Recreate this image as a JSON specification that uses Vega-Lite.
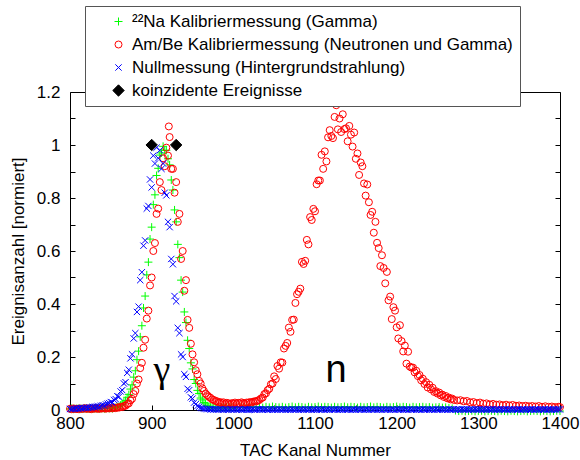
{
  "$schema": "https://vega.github.io/schema/vega-lite/v6.json",
  "autosize": {"type": "none"},
  "padding": {"left": 70, "top": 92, "right": 20, "bottom": 50},
  "width": 490,
  "height": 318,
  "background": "white",
  "config": {
    "font": "Liberation Sans",
    "view": {"stroke": "black", "strokeWidth": 1},
    "axis": {"labelFont": "Liberation Sans", "titleFont": "Liberation Sans", "labelFontSize": 17, "titleFontSize": 17, "titleFontWeight": "normal", "labelColor": "black", "titleColor": "black", "tickColor": "black", "grid": false, "domain": false, "labelFlush": false},
    "legend": {"orient": "none", "legendX": 15, "legendY": -86, "fillColor": "white", "strokeColor": "#555555", "padding": 7, "labelFont": "Liberation Sans", "labelFontSize": 17, "labelColor": "black", "labelLimit": 0, "rowPadding": 5, "symbolOffset": 18, "labelOffset": 5, "symbolStrokeWidth": 1, "title": null}
  },
  "resolve": {"axis": {"y": "independent"}},
  "layer": [
    {
      "data": {"values": [
      {"x":800,"y":0.004,"s":"a"},{"x":802,"y":0.006,"s":"a"},{"x":804,"y":0.003,"s":"a"},{"x":806,"y":0.005,"s":"a"},{"x":808,"y":0.004,"s":"a"},{"x":810,"y":0.006,"s":"a"},{"x":812,"y":0.003,"s":"a"},{"x":814,"y":0.005,"s":"a"},{"x":816,"y":0.004,"s":"a"},{"x":818,"y":0.006,"s":"a"},{"x":820,"y":0.005,"s":"a"},{"x":822,"y":0.004,"s":"a"},{"x":824,"y":0.006,"s":"a"},{"x":826,"y":0.005,"s":"a"},{"x":828,"y":0.004,"s":"a"},{"x":830,"y":0.006,"s":"a"},{"x":832,"y":0.005,"s":"a"},{"x":834,"y":0.007,"s":"a"},{"x":836,"y":0.005,"s":"a"},{"x":838,"y":0.006,"s":"a"},{"x":840,"y":0.007,"s":"a"},{"x":842,"y":0.005,"s":"a"},{"x":844,"y":0.006,"s":"a"},{"x":846,"y":0.008,"s":"a"},{"x":848,"y":0.006,"s":"a"},{"x":850,"y":0.007,"s":"a"},{"x":852,"y":0.006,"s":"a"},{"x":854,"y":0.008,"s":"a"},{"x":856,"y":0.009,"s":"a"},{"x":858,"y":0.012,"s":"a"},{"x":860,"y":0.013,"s":"a"},{"x":862,"y":0.018,"s":"a"},{"x":864,"y":0.022,"s":"a"},{"x":866,"y":0.03,"s":"a"},{"x":868,"y":0.036,"s":"a"},{"x":870,"y":0.048,"s":"a"},{"x":872,"y":0.058,"s":"a"},{"x":874,"y":0.079,"s":"a"},{"x":876,"y":0.095,"s":"a"},{"x":878,"y":0.124,"s":"a"},{"x":880,"y":0.148,"s":"a"},{"x":882,"y":0.19,"s":"a"},{"x":884,"y":0.222,"s":"a"},{"x":886,"y":0.276,"s":"a"},{"x":888,"y":0.318,"s":"a"},{"x":890,"y":0.385,"s":"a"},{"x":892,"y":0.43,"s":"a"},{"x":894,"y":0.51,"s":"a"},{"x":896,"y":0.558,"s":"a"},{"x":898,"y":0.645,"s":"a"},{"x":900,"y":0.69,"s":"a"},{"x":902,"y":0.775,"s":"a"},{"x":904,"y":0.812,"s":"a"},{"x":906,"y":0.885,"s":"a"},{"x":908,"y":0.912,"s":"a"},{"x":910,"y":0.962,"s":"a"},{"x":912,"y":0.97,"s":"a"},{"x":914,"y":0.995,"s":"a"},{"x":916,"y":0.98,"s":"a"},{"x":918,"y":0.98,"s":"a"},{"x":920,"y":0.948,"s":"a"},{"x":922,"y":0.925,"s":"a"},{"x":924,"y":0.868,"s":"a"},{"x":926,"y":0.83,"s":"a"},{"x":928,"y":0.755,"s":"a"},{"x":930,"y":0.71,"s":"a"},{"x":932,"y":0.625,"s":"a"},{"x":934,"y":0.575,"s":"a"},{"x":936,"y":0.49,"s":"a"},{"x":938,"y":0.445,"s":"a"},{"x":940,"y":0.37,"s":"a"},{"x":942,"y":0.33,"s":"a"},{"x":944,"y":0.263,"s":"a"},{"x":946,"y":0.232,"s":"a"},{"x":948,"y":0.178,"s":"a"},{"x":950,"y":0.155,"s":"a"},{"x":952,"y":0.115,"s":"a"},{"x":954,"y":0.1,"s":"a"},{"x":956,"y":0.074,"s":"a"},{"x":958,"y":0.062,"s":"a"},{"x":960,"y":0.045,"s":"a"},{"x":962,"y":0.038,"s":"a"},{"x":964,"y":0.028,"s":"a"},{"x":966,"y":0.023,"s":"a"},{"x":968,"y":0.016,"s":"a"},{"x":970,"y":0.014,"s":"a"},{"x":972,"y":0.011,"s":"a"},{"x":974,"y":0.01,"s":"a"},{"x":976,"y":0.009,"s":"a"},{"x":978,"y":0.008,"s":"a"},{"x":980,"y":0.009,"s":"a"},{"x":982,"y":0.01,"s":"a"},{"x":984,"y":0.008,"s":"a"},{"x":986,"y":0.011,"s":"a"},{"x":988,"y":0.01,"s":"a"},{"x":990,"y":0.009,"s":"a"},{"x":992,"y":0.011,"s":"a"},{"x":994,"y":0.01,"s":"a"},{"x":996,"y":0.012,"s":"a"},{"x":998,"y":0.01,"s":"a"},
      {"x":1000,"y":0.011,"s":"a"},{"x":1004,"y":0.01,"s":"a"},{"x":1008,"y":0.012,"s":"a"},{"x":1012,"y":0.009,"s":"a"},{"x":1016,"y":0.011,"s":"a"},{"x":1020,"y":0.013,"s":"a"},{"x":1024,"y":0.01,"s":"a"},{"x":1028,"y":0.012,"s":"a"},{"x":1032,"y":0.011,"s":"a"},{"x":1036,"y":0.009,"s":"a"},{"x":1040,"y":0.012,"s":"a"},{"x":1044,"y":0.01,"s":"a"},{"x":1048,"y":0.013,"s":"a"},{"x":1052,"y":0.011,"s":"a"},{"x":1056,"y":0.01,"s":"a"},{"x":1060,"y":0.012,"s":"a"},{"x":1064,"y":0.009,"s":"a"},{"x":1068,"y":0.011,"s":"a"},{"x":1072,"y":0.013,"s":"a"},{"x":1076,"y":0.01,"s":"a"},{"x":1080,"y":0.012,"s":"a"},{"x":1084,"y":0.011,"s":"a"},{"x":1088,"y":0.009,"s":"a"},{"x":1092,"y":0.012,"s":"a"},{"x":1096,"y":0.01,"s":"a"},{"x":1100,"y":0.011,"s":"a"},{"x":1104,"y":0.013,"s":"a"},{"x":1108,"y":0.01,"s":"a"},{"x":1112,"y":0.012,"s":"a"},{"x":1116,"y":0.011,"s":"a"},{"x":1120,"y":0.009,"s":"a"},{"x":1124,"y":0.012,"s":"a"},{"x":1128,"y":0.01,"s":"a"},{"x":1132,"y":0.011,"s":"a"},{"x":1136,"y":0.013,"s":"a"},{"x":1140,"y":0.01,"s":"a"},{"x":1144,"y":0.012,"s":"a"},{"x":1148,"y":0.011,"s":"a"},{"x":1152,"y":0.009,"s":"a"},{"x":1156,"y":0.012,"s":"a"},{"x":1160,"y":0.01,"s":"a"},{"x":1164,"y":0.011,"s":"a"},{"x":1168,"y":0.013,"s":"a"},{"x":1172,"y":0.01,"s":"a"},{"x":1176,"y":0.012,"s":"a"},{"x":1180,"y":0.011,"s":"a"},{"x":1184,"y":0.009,"s":"a"},{"x":1188,"y":0.012,"s":"a"},{"x":1192,"y":0.01,"s":"a"},{"x":1196,"y":0.011,"s":"a"},{"x":1200,"y":0.013,"s":"a"},{"x":1204,"y":0.01,"s":"a"},{"x":1208,"y":0.012,"s":"a"},{"x":1212,"y":0.011,"s":"a"},{"x":1216,"y":0.009,"s":"a"},{"x":1220,"y":0.012,"s":"a"},{"x":1224,"y":0.01,"s":"a"},{"x":1228,"y":0.011,"s":"a"},{"x":1232,"y":0.012,"s":"a"},{"x":1236,"y":0.01,"s":"a"},{"x":1240,"y":0.011,"s":"a"},{"x":1244,"y":0.009,"s":"a"},{"x":1248,"y":0.01,"s":"a"},{"x":1252,"y":0.011,"s":"a"},{"x":1256,"y":0.009,"s":"a"},{"x":1260,"y":0.01,"s":"a"},{"x":1264,"y":0.008,"s":"a"},{"x":1268,"y":0.006,"s":"a"},
      {"x":1272,"y":-0.002,"s":"a"},{"x":1276,"y":-0.004,"s":"a"},{"x":1280,"y":-0.003,"s":"a"},{"x":1284,"y":-0.005,"s":"a"},{"x":1288,"y":-0.004,"s":"a"},{"x":1292,"y":-0.003,"s":"a"},{"x":1296,"y":-0.005,"s":"a"},{"x":1300,"y":-0.004,"s":"a"},{"x":1304,"y":-0.003,"s":"a"},{"x":1308,"y":-0.005,"s":"a"},{"x":1312,"y":-0.004,"s":"a"},{"x":1316,"y":-0.003,"s":"a"},{"x":1320,"y":-0.004,"s":"a"},{"x":1324,"y":-0.005,"s":"a"},{"x":1328,"y":-0.003,"s":"a"},{"x":1332,"y":-0.004,"s":"a"},{"x":1336,"y":-0.005,"s":"a"},{"x":1340,"y":-0.003,"s":"a"},{"x":1344,"y":-0.004,"s":"a"},{"x":1348,"y":-0.005,"s":"a"},{"x":1352,"y":-0.004,"s":"a"},{"x":1356,"y":-0.003,"s":"a"},{"x":1360,"y":-0.005,"s":"a"},{"x":1364,"y":-0.004,"s":"a"},{"x":1368,"y":-0.003,"s":"a"},{"x":1372,"y":-0.004,"s":"a"},{"x":1376,"y":-0.005,"s":"a"},{"x":1380,"y":-0.003,"s":"a"},{"x":1384,"y":-0.004,"s":"a"},{"x":1388,"y":-0.005,"s":"a"},{"x":1392,"y":-0.004,"s":"a"},{"x":1396,"y":-0.003,"s":"a"},{"x":1400,"y":-0.004,"s":"a"},
      {"x":800,"y":0.005,"s":"b"},{"x":802,"y":0.003,"s":"b"},{"x":804,"y":0.006,"s":"b"},{"x":806,"y":0.004,"s":"b"},{"x":808,"y":0.005,"s":"b"},{"x":810,"y":0.003,"s":"b"},{"x":812,"y":0.006,"s":"b"},{"x":814,"y":0.004,"s":"b"},{"x":816,"y":0.005,"s":"b"},{"x":818,"y":0.007,"s":"b"},{"x":820,"y":0.004,"s":"b"},{"x":822,"y":0.006,"s":"b"},{"x":824,"y":0.005,"s":"b"},{"x":826,"y":0.003,"s":"b"},{"x":828,"y":0.006,"s":"b"},{"x":830,"y":0.005,"s":"b"},{"x":832,"y":0.007,"s":"b"},{"x":834,"y":0.004,"s":"b"},{"x":836,"y":0.006,"s":"b"},{"x":838,"y":0.005,"s":"b"},{"x":840,"y":0.007,"s":"b"},{"x":842,"y":0.006,"s":"b"},{"x":844,"y":0.005,"s":"b"},{"x":846,"y":0.008,"s":"b"},{"x":848,"y":0.006,"s":"b"},{"x":850,"y":0.007,"s":"b"},{"x":852,"y":0.006,"s":"b"},{"x":854,"y":0.009,"s":"b"},{"x":856,"y":0.007,"s":"b"},{"x":858,"y":0.01,"s":"b"},{"x":860,"y":0.009,"s":"b"},{"x":862,"y":0.012,"s":"b"},{"x":864,"y":0.011,"s":"b"},{"x":866,"y":0.015,"s":"b"},{"x":868,"y":0.016,"s":"b"},{"x":870,"y":0.022,"s":"b"},{"x":872,"y":0.025,"s":"b"},{"x":874,"y":0.036,"s":"b"},{"x":876,"y":0.042,"s":"b"},{"x":878,"y":0.06,"s":"b"},{"x":880,"y":0.072,"s":"b"},{"x":882,"y":0.1,"s":"b"},{"x":884,"y":0.115,"s":"b"},{"x":886,"y":0.158,"s":"b"},{"x":888,"y":0.178,"s":"b"},{"x":890,"y":0.235,"s":"b"},{"x":892,"y":0.265,"s":"b"},{"x":894,"y":0.345,"s":"b"},{"x":896,"y":0.375,"s":"b"},{"x":898,"y":0.47,"s":"b"},{"x":900,"y":0.5,"s":"b"},{"x":902,"y":0.6,"s":"b"},{"x":904,"y":0.63,"s":"b"},{"x":906,"y":0.74,"s":"b"},{"x":908,"y":0.76,"s":"b"},{"x":910,"y":0.86,"s":"b"},{"x":912,"y":0.83,"s":"b"},{"x":914,"y":0.95,"s":"b"},{"x":916,"y":0.92,"s":"b"},{"x":918,"y":0.99,"s":"b"},{"x":920,"y":0.96,"s":"b"},{"x":921,"y":1.07,"s":"b"},{"x":922,"y":1.03,"s":"b"},{"x":924,"y":0.91,"s":"b"},{"x":926,"y":0.91,"s":"b"},{"x":928,"y":0.82,"s":"b"},{"x":930,"y":0.86,"s":"b"},{"x":932,"y":0.71,"s":"b"},{"x":934,"y":0.74,"s":"b"},{"x":936,"y":0.57,"s":"b"},{"x":938,"y":0.6,"s":"b"},{"x":940,"y":0.45,"s":"b"},{"x":942,"y":0.49,"s":"b"},{"x":944,"y":0.34,"s":"b"},{"x":946,"y":0.31,"s":"b"},{"x":948,"y":0.25,"s":"b"},{"x":950,"y":0.21,"s":"b"},{"x":952,"y":0.18,"s":"b"},{"x":954,"y":0.15,"s":"b"},{"x":956,"y":0.135,"s":"b"},{"x":958,"y":0.11,"s":"b"},{"x":960,"y":0.1,"s":"b"},{"x":962,"y":0.082,"s":"b"},{"x":964,"y":0.072,"s":"b"},{"x":966,"y":0.062,"s":"b"},{"x":968,"y":0.056,"s":"b"},{"x":970,"y":0.05,"s":"b"},{"x":972,"y":0.046,"s":"b"},{"x":974,"y":0.04,"s":"b"},{"x":976,"y":0.038,"s":"b"},{"x":978,"y":0.034,"s":"b"},{"x":980,"y":0.033,"s":"b"},{"x":982,"y":0.028,"s":"b"},{"x":984,"y":0.03,"s":"b"},{"x":986,"y":0.026,"s":"b"},{"x":988,"y":0.029,"s":"b"},{"x":990,"y":0.024,"s":"b"},{"x":992,"y":0.027,"s":"b"},{"x":994,"y":0.025,"s":"b"},{"x":996,"y":0.022,"s":"b"},{"x":998,"y":0.026,"s":"b"},{"x":1000,"y":0.024,"s":"b"},{"x":1002,"y":0.028,"s":"b"},{"x":1004,"y":0.023,"s":"b"},{"x":1006,"y":0.027,"s":"b"},{"x":1008,"y":0.025,"s":"b"},{"x":1010,"y":0.029,"s":"b"},{"x":1012,"y":0.026,"s":"b"},{"x":1014,"y":0.024,"s":"b"},{"x":1016,"y":0.028,"s":"b"},{"x":1018,"y":0.027,"s":"b"},{"x":1020,"y":0.03,"s":"b"},{"x":1022,"y":0.028,"s":"b"},{"x":1024,"y":0.031,"s":"b"},{"x":1026,"y":0.033,"s":"b"},{"x":1028,"y":0.032,"s":"b"},{"x":1030,"y":0.036,"s":"b"},{"x":1032,"y":0.038,"s":"b"},{"x":1034,"y":0.044,"s":"b"},{"x":1036,"y":0.047,"s":"b"},{"x":1038,"y":0.06,"s":"b"},{"x":1040,"y":0.063,"s":"b"},{"x":1042,"y":0.075,"s":"b"},{"x":1044,"y":0.08,"s":"b"},{"x":1046,"y":0.097,"s":"b"},{"x":1048,"y":0.1,"s":"b"},{"x":1050,"y":0.127,"s":"b"},{"x":1052,"y":0.117,"s":"b"},{"x":1054,"y":0.166,"s":"b"},{"x":1056,"y":0.156,"s":"b"},{"x":1058,"y":0.18,"s":"b"},{"x":1060,"y":0.179,"s":"b"},{"x":1062,"y":0.232,"s":"b"},{"x":1064,"y":0.242,"s":"b"},{"x":1066,"y":0.253,"s":"b"},{"x":1068,"y":0.311,"s":"b"},{"x":1070,"y":0.295,"s":"b"},{"x":1072,"y":0.34,"s":"b"},{"x":1074,"y":0.341,"s":"b"},{"x":1076,"y":0.404,"s":"b"},{"x":1078,"y":0.437,"s":"b"},{"x":1080,"y":0.446,"s":"b"},{"x":1082,"y":0.458,"s":"b"},{"x":1084,"y":0.559,"s":"b"},{"x":1086,"y":0.551,"s":"b"},{"x":1088,"y":0.563,"s":"b"},{"x":1090,"y":0.642,"s":"b"},{"x":1092,"y":0.625,"s":"b"},{"x":1094,"y":0.728,"s":"b"},{"x":1096,"y":0.717,"s":"b"},{"x":1098,"y":0.759,"s":"b"},{"x":1100,"y":0.75,"s":"b"},{"x":1102,"y":0.852,"s":"b"},{"x":1104,"y":0.866,"s":"b"},{"x":1106,"y":0.866,"s":"b"},{"x":1108,"y":0.963,"s":"b"},{"x":1110,"y":0.91,"s":"b"},{"x":1112,"y":0.976,"s":"b"},{"x":1114,"y":0.938,"s":"b"},{"x":1116,"y":1.029,"s":"b"},{"x":1118,"y":1.056,"s":"b"},{"x":1120,"y":1.034,"s":"b"},{"x":1122,"y":1.026,"s":"b"},{"x":1124,"y":1.106,"s":"b"},{"x":1126,"y":1.15,"s":"b"},{"x":1128,"y":1.059,"s":"b"},{"x":1130,"y":1.1,"s":"b"},{"x":1132,"y":1.049,"s":"b"},{"x":1134,"y":1.116,"s":"b"},{"x":1136,"y":1.06,"s":"b"},{"x":1138,"y":1.063,"s":"b"},{"x":1140,"y":1.014,"s":"b"},{"x":1142,"y":1.072,"s":"b"},{"x":1144,"y":1.039,"s":"b"},{"x":1146,"y":0.994,"s":"b"},{"x":1148,"y":1.047,"s":"b"},{"x":1150,"y":0.948,"s":"b"},{"x":1152,"y":0.968,"s":"b"},{"x":1154,"y":0.887,"s":"b"},{"x":1156,"y":0.934,"s":"b"},{"x":1158,"y":0.92,"s":"b"},{"x":1160,"y":0.855,"s":"b"},{"x":1162,"y":0.809,"s":"b"},{"x":1164,"y":0.851,"s":"b"},{"x":1166,"y":0.784,"s":"b"},{"x":1168,"y":0.736,"s":"b"},{"x":1170,"y":0.748,"s":"b"},{"x":1172,"y":0.669,"s":"b"},{"x":1174,"y":0.71,"s":"b"},{"x":1176,"y":0.631,"s":"b"},{"x":1178,"y":0.611,"s":"b"},{"x":1180,"y":0.543,"s":"b"},{"x":1182,"y":0.584,"s":"b"},{"x":1184,"y":0.536,"s":"b"},{"x":1186,"y":0.478,"s":"b"},{"x":1188,"y":0.521,"s":"b"},{"x":1190,"y":0.414,"s":"b"},{"x":1192,"y":0.428,"s":"b"},{"x":1194,"y":0.343,"s":"b"},{"x":1196,"y":0.388,"s":"b"},{"x":1198,"y":0.375,"s":"b"},{"x":1200,"y":0.312,"s":"b"},{"x":1202,"y":0.27,"s":"b"},{"x":1204,"y":0.32,"s":"b"},{"x":1206,"y":0.26,"s":"b"},{"x":1208,"y":0.221,"s":"b"},{"x":1210,"y":0.243,"s":"b"},{"x":1212,"y":0.175,"s":"b"},{"x":1214,"y":0.22,"s":"b"},{"x":1216,"y":0.164,"s":"b"},{"x":1218,"y":0.16,"s":"b"},{"x":1220,"y":0.16,"s":"b"},{"x":1222,"y":0.142,"s":"b"},{"x":1224,"y":0.148,"s":"b"},{"x":1226,"y":0.128,"s":"b"},{"x":1228,"y":0.132,"s":"b"},{"x":1230,"y":0.112,"s":"b"},{"x":1232,"y":0.118,"s":"b"},{"x":1234,"y":0.098,"s":"b"},{"x":1236,"y":0.105,"s":"b"},{"x":1238,"y":0.085,"s":"b"},{"x":1240,"y":0.095,"s":"b"},{"x":1242,"y":0.078,"s":"b"},{"x":1244,"y":0.084,"s":"b"},{"x":1246,"y":0.068,"s":"b"},{"x":1248,"y":0.071,"s":"b"},{"x":1250,"y":0.062,"s":"b"},{"x":1252,"y":0.066,"s":"b"},{"x":1254,"y":0.055,"s":"b"},{"x":1256,"y":0.058,"s":"b"},{"x":1258,"y":0.049,"s":"b"},{"x":1260,"y":0.053,"s":"b"},{"x":1262,"y":0.044,"s":"b"},{"x":1264,"y":0.047,"s":"b"},{"x":1266,"y":0.04,"s":"b"},{"x":1268,"y":0.043,"s":"b"},{"x":1270,"y":0.038,"s":"b"},
      {"x":1274,"y":0.036,"s":"b"},{"x":1278,"y":0.037,"s":"b"},{"x":1282,"y":0.033,"s":"b"},{"x":1286,"y":0.034,"s":"b"},{"x":1290,"y":0.029,"s":"b"},{"x":1294,"y":0.03,"s":"b"},{"x":1298,"y":0.026,"s":"b"},{"x":1302,"y":0.028,"s":"b"},{"x":1306,"y":0.024,"s":"b"},{"x":1310,"y":0.025,"s":"b"},{"x":1314,"y":0.021,"s":"b"},{"x":1318,"y":0.023,"s":"b"},{"x":1322,"y":0.02,"s":"b"},{"x":1326,"y":0.021,"s":"b"},{"x":1330,"y":0.018,"s":"b"},{"x":1334,"y":0.02,"s":"b"},{"x":1338,"y":0.017,"s":"b"},{"x":1342,"y":0.019,"s":"b"},{"x":1346,"y":0.016,"s":"b"},{"x":1350,"y":0.017,"s":"b"},{"x":1354,"y":0.015,"s":"b"},{"x":1358,"y":0.016,"s":"b"},{"x":1362,"y":0.014,"s":"b"},{"x":1366,"y":0.015,"s":"b"},{"x":1370,"y":0.013,"s":"b"},{"x":1374,"y":0.015,"s":"b"},{"x":1378,"y":0.012,"s":"b"},{"x":1382,"y":0.014,"s":"b"},{"x":1386,"y":0.012,"s":"b"},{"x":1390,"y":0.013,"s":"b"},{"x":1394,"y":0.011,"s":"b"},{"x":1398,"y":0.012,"s":"b"},{"x":1400,"y":0.011,"s":"b"},
      {"x":800,"y":0.004,"s":"c"},{"x":802,"y":0.003,"s":"c"},{"x":804,"y":0.005,"s":"c"},{"x":806,"y":0.004,"s":"c"},{"x":808,"y":0.006,"s":"c"},{"x":810,"y":0.005,"s":"c"},{"x":812,"y":0.007,"s":"c"},{"x":814,"y":0.006,"s":"c"},{"x":816,"y":0.008,"s":"c"},{"x":818,"y":0.007,"s":"c"},{"x":820,"y":0.009,"s":"c"},{"x":822,"y":0.008,"s":"c"},{"x":824,"y":0.01,"s":"c"},{"x":826,"y":0.009,"s":"c"},{"x":828,"y":0.012,"s":"c"},{"x":830,"y":0.011,"s":"c"},{"x":832,"y":0.013,"s":"c"},{"x":834,"y":0.014,"s":"c"},{"x":836,"y":0.012,"s":"c"},{"x":838,"y":0.016,"s":"c"},{"x":840,"y":0.018,"s":"c"},{"x":842,"y":0.017,"s":"c"},{"x":844,"y":0.021,"s":"c"},{"x":846,"y":0.024,"s":"c"},{"x":848,"y":0.026,"s":"c"},{"x":850,"y":0.03,"s":"c"},{"x":852,"y":0.028,"s":"c"},{"x":854,"y":0.038,"s":"c"},{"x":856,"y":0.041,"s":"c"},{"x":858,"y":0.052,"s":"c"},{"x":860,"y":0.05,"s":"c"},{"x":862,"y":0.07,"s":"c"},{"x":864,"y":0.075,"s":"c"},{"x":866,"y":0.1,"s":"c"},{"x":868,"y":0.105,"s":"c"},{"x":870,"y":0.14,"s":"c"},{"x":872,"y":0.152,"s":"c"},{"x":874,"y":0.195,"s":"c"},{"x":876,"y":0.21,"s":"c"},{"x":878,"y":0.27,"s":"c"},{"x":880,"y":0.29,"s":"c"},{"x":882,"y":0.37,"s":"c"},{"x":884,"y":0.39,"s":"c"},{"x":886,"y":0.49,"s":"c"},{"x":888,"y":0.52,"s":"c"},{"x":890,"y":0.62,"s":"c"},{"x":892,"y":0.64,"s":"c"},{"x":894,"y":0.76,"s":"c"},{"x":896,"y":0.77,"s":"c"},{"x":898,"y":0.87,"s":"c"},{"x":900,"y":0.84,"s":"c"},{"x":902,"y":0.96,"s":"c"},{"x":904,"y":0.93,"s":"c"},{"x":906,"y":0.99,"s":"c"},{"x":908,"y":0.95,"s":"c"},{"x":910,"y":0.98,"s":"c"},{"x":912,"y":0.91,"s":"c"},{"x":914,"y":0.93,"s":"c"},{"x":916,"y":0.82,"s":"c"},{"x":918,"y":0.81,"s":"c"},{"x":920,"y":0.71,"s":"c"},{"x":922,"y":0.69,"s":"c"},{"x":924,"y":0.57,"s":"c"},{"x":926,"y":0.55,"s":"c"},{"x":928,"y":0.43,"s":"c"},{"x":930,"y":0.41,"s":"c"},{"x":932,"y":0.31,"s":"c"},{"x":934,"y":0.29,"s":"c"},{"x":936,"y":0.21,"s":"c"},{"x":938,"y":0.2,"s":"c"},{"x":940,"y":0.135,"s":"c"},{"x":942,"y":0.125,"s":"c"},{"x":944,"y":0.08,"s":"c"},{"x":946,"y":0.075,"s":"c"},{"x":948,"y":0.048,"s":"c"},{"x":950,"y":0.043,"s":"c"},{"x":952,"y":0.028,"s":"c"},{"x":954,"y":0.022,"s":"c"},{"x":956,"y":0.015,"s":"c"},{"x":958,"y":0.012,"s":"c"},{"x":960,"y":0.008,"s":"c"},{"x":962,"y":0.007,"s":"c"},{"x":964,"y":0.005,"s":"c"},{"x":966,"y":0.004,"s":"c"},{"x":968,"y":0.003,"s":"c"},{"x":970,"y":0.004,"s":"c"},{"x":972,"y":0.002,"s":"c"},{"x":974,"y":0.003,"s":"c"},{"x":976,"y":0.002,"s":"c"},{"x":978,"y":0.003,"s":"c"},{"x":980,"y":0.002,"s":"c"},
      {"x":982,"y":0.002,"s":"c"},{"x":984,"y":0.003,"s":"c"},{"x":986,"y":0.002,"s":"c"},{"x":988,"y":0.001,"s":"c"},{"x":990,"y":0.003,"s":"c"},{"x":992,"y":0.002,"s":"c"},{"x":994,"y":0.001,"s":"c"},{"x":996,"y":0.003,"s":"c"},{"x":998,"y":0.002,"s":"c"},{"x":1000,"y":0.002,"s":"c"},{"x":1002,"y":0.003,"s":"c"},{"x":1004,"y":0.001,"s":"c"},{"x":1006,"y":0.002,"s":"c"},{"x":1008,"y":0.003,"s":"c"},{"x":1010,"y":0.001,"s":"c"},{"x":1012,"y":0.002,"s":"c"},{"x":1014,"y":0.003,"s":"c"},{"x":1016,"y":0.002,"s":"c"},{"x":1018,"y":0.001,"s":"c"},{"x":1020,"y":0.001,"s":"c"},{"x":1022,"y":0.002,"s":"c"},{"x":1024,"y":0.003,"s":"c"},{"x":1026,"y":0.001,"s":"c"},{"x":1028,"y":0.002,"s":"c"},{"x":1030,"y":0.003,"s":"c"},{"x":1032,"y":0.002,"s":"c"},{"x":1034,"y":0.002,"s":"c"},{"x":1036,"y":0.001,"s":"c"},{"x":1038,"y":0.003,"s":"c"},{"x":1040,"y":0.003,"s":"c"},{"x":1042,"y":0.001,"s":"c"},{"x":1044,"y":0.002,"s":"c"},{"x":1046,"y":0.003,"s":"c"},{"x":1048,"y":0.001,"s":"c"},{"x":1050,"y":0.002,"s":"c"},{"x":1052,"y":0.002,"s":"c"},{"x":1054,"y":0.001,"s":"c"},{"x":1056,"y":0.003,"s":"c"},{"x":1058,"y":0.002,"s":"c"},{"x":1060,"y":0.002,"s":"c"},{"x":1062,"y":0.003,"s":"c"},{"x":1064,"y":0.001,"s":"c"},{"x":1066,"y":0.002,"s":"c"},{"x":1068,"y":0.002,"s":"c"},{"x":1070,"y":0.001,"s":"c"},{"x":1072,"y":0.003,"s":"c"},{"x":1074,"y":0.002,"s":"c"},{"x":1076,"y":0.002,"s":"c"},{"x":1078,"y":0.003,"s":"c"},{"x":1080,"y":0.001,"s":"c"},{"x":1082,"y":0.002,"s":"c"},{"x":1084,"y":0.002,"s":"c"},{"x":1086,"y":0.001,"s":"c"},{"x":1088,"y":0.003,"s":"c"},{"x":1090,"y":0.002,"s":"c"},{"x":1092,"y":0.002,"s":"c"},{"x":1094,"y":0.003,"s":"c"},{"x":1096,"y":0.001,"s":"c"},{"x":1098,"y":0.002,"s":"c"},{"x":1100,"y":0.002,"s":"c"},{"x":1102,"y":0.001,"s":"c"},{"x":1104,"y":0.003,"s":"c"},{"x":1106,"y":0.002,"s":"c"},{"x":1108,"y":0.002,"s":"c"},{"x":1110,"y":0.003,"s":"c"},{"x":1112,"y":0.001,"s":"c"},{"x":1114,"y":0.002,"s":"c"},{"x":1116,"y":0.002,"s":"c"},{"x":1118,"y":0.001,"s":"c"},{"x":1120,"y":0.003,"s":"c"},{"x":1122,"y":0.002,"s":"c"},{"x":1124,"y":0.002,"s":"c"},{"x":1126,"y":0.003,"s":"c"},{"x":1128,"y":0.001,"s":"c"},{"x":1130,"y":0.002,"s":"c"},{"x":1132,"y":0.002,"s":"c"},{"x":1134,"y":0.001,"s":"c"},{"x":1136,"y":0.003,"s":"c"},{"x":1138,"y":0.002,"s":"c"},{"x":1140,"y":0.002,"s":"c"},{"x":1142,"y":0.003,"s":"c"},{"x":1144,"y":0.001,"s":"c"},{"x":1146,"y":0.002,"s":"c"},{"x":1148,"y":0.002,"s":"c"},{"x":1150,"y":0.001,"s":"c"},{"x":1152,"y":0.003,"s":"c"},{"x":1154,"y":0.002,"s":"c"},{"x":1156,"y":0.002,"s":"c"},{"x":1158,"y":0.003,"s":"c"},{"x":1160,"y":0.001,"s":"c"},{"x":1162,"y":0.002,"s":"c"},{"x":1164,"y":0.002,"s":"c"},{"x":1166,"y":0.001,"s":"c"},{"x":1168,"y":0.003,"s":"c"},{"x":1170,"y":0.002,"s":"c"},{"x":1172,"y":0.002,"s":"c"},{"x":1174,"y":0.003,"s":"c"},{"x":1176,"y":0.001,"s":"c"},{"x":1178,"y":0.002,"s":"c"},{"x":1180,"y":0.002,"s":"c"},{"x":1182,"y":0.001,"s":"c"},{"x":1184,"y":0.003,"s":"c"},{"x":1186,"y":0.002,"s":"c"},{"x":1188,"y":0.002,"s":"c"},{"x":1190,"y":0.003,"s":"c"},{"x":1192,"y":0.001,"s":"c"},{"x":1194,"y":0.002,"s":"c"},{"x":1196,"y":0.002,"s":"c"},{"x":1198,"y":0.001,"s":"c"},{"x":1200,"y":0.003,"s":"c"},{"x":1202,"y":0.002,"s":"c"},{"x":1204,"y":0.002,"s":"c"},{"x":1206,"y":0.003,"s":"c"},{"x":1208,"y":0.001,"s":"c"},{"x":1210,"y":0.002,"s":"c"},{"x":1212,"y":0.002,"s":"c"},{"x":1214,"y":0.001,"s":"c"},{"x":1216,"y":0.003,"s":"c"},{"x":1218,"y":0.002,"s":"c"},{"x":1220,"y":0.002,"s":"c"},{"x":1222,"y":0.003,"s":"c"},{"x":1224,"y":0.001,"s":"c"},{"x":1226,"y":0.002,"s":"c"},{"x":1228,"y":0.002,"s":"c"},{"x":1230,"y":0.001,"s":"c"},{"x":1232,"y":0.003,"s":"c"},{"x":1234,"y":0.002,"s":"c"},{"x":1236,"y":0.002,"s":"c"},{"x":1238,"y":0.003,"s":"c"},{"x":1240,"y":0.001,"s":"c"},{"x":1242,"y":0.002,"s":"c"},{"x":1244,"y":0.002,"s":"c"},{"x":1246,"y":0.001,"s":"c"},{"x":1248,"y":0.003,"s":"c"},{"x":1250,"y":0.002,"s":"c"},{"x":1252,"y":0.002,"s":"c"},{"x":1254,"y":0.003,"s":"c"},{"x":1256,"y":0.001,"s":"c"},{"x":1258,"y":0.002,"s":"c"},{"x":1260,"y":0.002,"s":"c"},{"x":1262,"y":0.001,"s":"c"},{"x":1264,"y":0.003,"s":"c"},{"x":1266,"y":0.002,"s":"c"},{"x":1268,"y":0.002,"s":"c"},{"x":1270,"y":0.003,"s":"c"},{"x":1272,"y":0.001,"s":"c"},{"x":1274,"y":0.002,"s":"c"},{"x":1276,"y":0.002,"s":"c"},{"x":1278,"y":0.001,"s":"c"},{"x":1280,"y":0.003,"s":"c"},{"x":1282,"y":0.002,"s":"c"},{"x":1284,"y":0.002,"s":"c"},{"x":1286,"y":0.003,"s":"c"},{"x":1288,"y":0.001,"s":"c"},{"x":1290,"y":0.002,"s":"c"},{"x":1292,"y":0.002,"s":"c"},{"x":1294,"y":0.001,"s":"c"},{"x":1296,"y":0.003,"s":"c"},{"x":1298,"y":0.002,"s":"c"},{"x":1300,"y":0.002,"s":"c"},{"x":1302,"y":0.003,"s":"c"},{"x":1304,"y":0.001,"s":"c"},{"x":1306,"y":0.002,"s":"c"},{"x":1308,"y":0.002,"s":"c"},{"x":1310,"y":0.001,"s":"c"},{"x":1312,"y":0.003,"s":"c"},{"x":1314,"y":0.002,"s":"c"},{"x":1316,"y":0.002,"s":"c"},{"x":1318,"y":0.003,"s":"c"},{"x":1320,"y":0.001,"s":"c"},{"x":1322,"y":0.002,"s":"c"},{"x":1324,"y":0.002,"s":"c"},{"x":1326,"y":0.001,"s":"c"},{"x":1328,"y":0.003,"s":"c"},{"x":1330,"y":0.002,"s":"c"},{"x":1332,"y":0.002,"s":"c"},{"x":1334,"y":0.003,"s":"c"},{"x":1336,"y":0.001,"s":"c"},{"x":1338,"y":0.002,"s":"c"},{"x":1340,"y":0.002,"s":"c"},{"x":1342,"y":0.001,"s":"c"},{"x":1344,"y":0.003,"s":"c"},{"x":1346,"y":0.002,"s":"c"},{"x":1348,"y":0.002,"s":"c"},{"x":1350,"y":0.003,"s":"c"},{"x":1352,"y":0.001,"s":"c"},{"x":1354,"y":0.002,"s":"c"},{"x":1356,"y":0.002,"s":"c"},{"x":1358,"y":0.001,"s":"c"},{"x":1360,"y":0.003,"s":"c"},{"x":1362,"y":0.002,"s":"c"},{"x":1364,"y":0.002,"s":"c"},{"x":1366,"y":0.003,"s":"c"},{"x":1368,"y":0.001,"s":"c"},{"x":1370,"y":0.002,"s":"c"},{"x":1372,"y":0.002,"s":"c"},{"x":1374,"y":0.001,"s":"c"},{"x":1376,"y":0.003,"s":"c"},{"x":1378,"y":0.002,"s":"c"},{"x":1380,"y":0.002,"s":"c"},{"x":1382,"y":0.003,"s":"c"},{"x":1384,"y":0.001,"s":"c"},{"x":1386,"y":0.002,"s":"c"},{"x":1388,"y":0.002,"s":"c"},{"x":1390,"y":0.001,"s":"c"},{"x":1392,"y":0.003,"s":"c"},{"x":1394,"y":0.002,"s":"c"},{"x":1396,"y":0.002,"s":"c"},{"x":1398,"y":0.003,"s":"c"},{"x":1400,"y":0.002,"s":"c"},
      {"x":900,"y":1.0,"s":"d"},{"x":930,"y":1.0,"s":"d"}
      ]},
      "mark": {"type": "point", "opacity": 1, "strokeWidth": 1},
      "encoding": {
        "x": {"field": "x", "type": "quantitative", "scale": {"domain": [800, 1400], "nice": false, "zero": false},
              "axis": {"title": "TAC Kanal Nummer", "values": [800,850,900,950,1000,1050,1100,1150,1200,1250,1300,1350,1400], "labelExpr": "datum.value % 100 == 0 ? datum.label : ''", "format": "d", "tickSize": -5, "labelPadding": 10, "titlePadding": 11}},
        "y": {"field": "y", "type": "quantitative", "scale": {"domain": [0, 1.2], "nice": false, "zero": false},
              "axis": {"title": "Ereignisanzahl [normiert]", "orient": "left", "values": [0,0.1,0.2,0.3,0.4,0.5,0.6,0.7,0.8,0.9,1,1.1,1.2], "format": "~g", "labelExpr": "round(datum.value*10) % 2 == 0 ? datum.label : ''", "tickSize": -5, "labelPadding": 15, "titlePadding": 9}},
        "stroke": {"field": "s", "type": "nominal",
                   "scale": {"domain": ["a", "b", "c", "d"], "range": ["#00ff00", "#ff0000", "#0000ff", "#000000"]},
                   "legend": {"labelExpr": "datum.label == 'a' ? '²²Na Kalibriermessung (Gamma)' : datum.label == 'b' ? 'Am/Be Kalibriermessung (Neutronen und Gamma)' : datum.label == 'c' ? 'Nullmessung (Hintergrundstrahlung)' : 'koinzidente Ereignisse'"}},
        "fill": {"field": "s", "type": "nominal",
                 "scale": {"domain": ["a", "b", "c", "d"], "range": ["transparent", "transparent", "transparent", "#000000"]},
                 "legend": {"labelExpr": "datum.label == 'a' ? '²²Na Kalibriermessung (Gamma)' : datum.label == 'b' ? 'Am/Be Kalibriermessung (Neutronen und Gamma)' : datum.label == 'c' ? 'Nullmessung (Hintergrundstrahlung)' : 'koinzidente Ereignisse'"}},
        "shape": {"field": "s", "type": "nominal",
                  "scale": {"domain": ["a", "b", "c", "d"], "range": ["M-1,0L1,0M0,-1L0,1", "circle", "M-1,-1L1,1M-1,1L1,-1", "diamond"]},
                  "legend": {"labelExpr": "datum.label == 'a' ? '²²Na Kalibriermessung (Gamma)' : datum.label == 'b' ? 'Am/Be Kalibriermessung (Neutronen und Gamma)' : datum.label == 'c' ? 'Nullmessung (Hintergrundstrahlung)' : 'koinzidente Ereignisse'"}},
        "size": {"field": "s", "type": "nominal",
                 "scale": {"type": "ordinal", "domain": ["a", "b", "c", "d"], "range": [64, 49, 40, 130]},
                 "legend": {"labelExpr": "datum.label == 'a' ? '²²Na Kalibriermessung (Gamma)' : datum.label == 'b' ? 'Am/Be Kalibriermessung (Neutronen und Gamma)' : datum.label == 'c' ? 'Nullmessung (Hintergrundstrahlung)' : 'koinzidente Ereignisse'"}}
      }
    },
    {
      "data": {"values": [{"x":912.6,"y":0.106,"t":"γ"}]},
      "mark": {"type": "text", "font": "Liberation Serif", "fontSize": 38, "align": "center", "baseline": "alphabetic", "color": "black"},
      "encoding": {
        "x": {"field": "x", "type": "quantitative"},
        "y": {"field": "y", "type": "quantitative",
              "axis": {"orient": "right", "labels": false, "title": null, "values": [0,0.1,0.2,0.3,0.4,0.5,0.6,0.7,0.8,0.9,1,1.1,1.2], "tickSize": -5}},
        "text": {"field": "t"}
      }
    },
    {
      "data": {"values": [{"x":1125.7,"y":0.106,"t":"n"}]},
      "mark": {"type": "text", "font": "Liberation Sans", "fontSize": 38, "align": "center", "baseline": "alphabetic", "color": "black"},
      "encoding": {
        "x": {"field": "x", "type": "quantitative"},
        "y": {"field": "y", "type": "quantitative", "axis": null},
        "text": {"field": "t"}
      }
    }
  ]
}
